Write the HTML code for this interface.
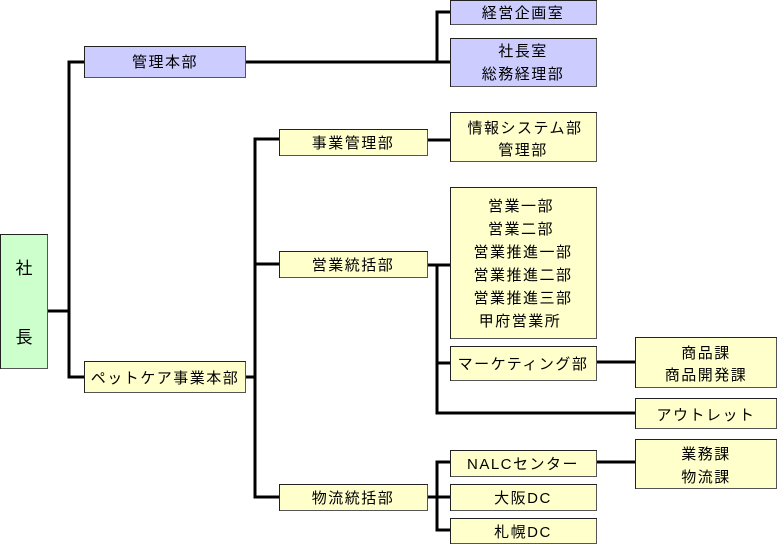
<!DOCTYPE html>
<html><head><meta charset="utf-8"><style>
html,body{margin:0;padding:0;background:#fff;}
svg{display:block;}
text{font-family:"Liberation Sans","Noto Sans CJK JP",sans-serif;font-size:15px;letter-spacing:1.5px;fill:#000;}
.big{font-size:17px;letter-spacing:0;}
</style></head><body>
<svg width="778" height="544" viewBox="0 0 778 544" xmlns="http://www.w3.org/2000/svg">
<g stroke="#000" stroke-width="3" fill="none">
<polyline points="47,311 69,311"/>
<polyline points="84,62 69,62 69,377 84,377"/>
<polyline points="245,62 437,62"/>
<polyline points="450,12 437,12 437,62 450,62"/>
<polyline points="245,377 255,377"/>
<polyline points="279,139 255,139 255,497 279,497"/>
<polyline points="255,264 279,264"/>
<polyline points="427,140 450,140"/>
<polyline points="427,265 450,265"/>
<polyline points="437,265 437,413 635,413"/>
<polyline points="437,363 450,363"/>
<polyline points="596,362 635,362"/>
<polyline points="427,497 450,497"/>
<polyline points="450,462 437,462 437,530 450,530"/>
<polyline points="596,462 635,462"/>
</g>
<g stroke="#222" stroke-width="1">
<rect x="0.5" y="234.5" width="47" height="134" fill="#ccffcc"/>
<rect x="84.5" y="46.5" width="161" height="31" fill="#ccccff"/>
<rect x="450.5" y="0.5" width="146" height="24" fill="#ccccff"/>
<rect x="450.5" y="38.5" width="146" height="48" fill="#ccccff"/>
<rect x="279.5" y="129.5" width="148" height="26" fill="#ffffcc"/>
<rect x="450.5" y="112.5" width="146" height="49" fill="#ffffcc"/>
<rect x="279.5" y="251.5" width="148" height="26" fill="#ffffcc"/>
<rect x="450.5" y="187.5" width="146" height="151" fill="#ffffcc"/>
<rect x="450.5" y="346.5" width="146" height="34" fill="#ffffcc"/>
<rect x="635.5" y="337.5" width="141" height="50" fill="#ffffcc"/>
<rect x="635.5" y="398.5" width="141" height="30" fill="#ffffcc"/>
<rect x="84.5" y="361.5" width="161" height="31" fill="#ffffcc"/>
<rect x="279.5" y="484.5" width="148" height="26" fill="#ffffcc"/>
<rect x="450.5" y="450.5" width="146" height="26" fill="#ffffcc"/>
<rect x="450.5" y="484.5" width="146" height="26" fill="#ffffcc"/>
<rect x="450.5" y="518.5" width="146" height="26" fill="#ffffcc"/>
<rect x="635.5" y="439.5" width="141" height="49" fill="#ffffcc"/>
</g>
<g stroke="#555" stroke-width="1">
<path d="M1,368.5H47.5V235 M85,77.5H245.5V47 M451,24.5H596.5V1 M451,86.5H596.5V39 M280,155.5H427.5V130 M451,161.5H596.5V113 M280,277.5H427.5V252 M451,338.5H596.5V188 M451,380.5H596.5V347 M636,387.5H776.5V338 M636,428.5H776.5V399 M85,392.5H245.5V362 M280,510.5H427.5V485 M451,476.5H596.5V451 M451,510.5H596.5V485 M451,543.5H596.5V519 M636,488.5H776.5V440" fill="none"/>
</g>
<g text-anchor="middle">
<text class="big" x="24" y="274">社</text>
<text class="big" x="24" y="343">長</text>
<text x="165" y="67">管理本部</text>
<text x="523" y="18">経営企画室</text>
<text x="523" y="56">社長室</text>
<text x="523" y="79">総務経理部</text>
<text x="353" y="148">事業管理部</text>
<text x="525" y="133">情報システム部</text>
<text x="523" y="155">管理部</text>
<text x="353" y="270">営業統括部</text>
<text x="521" y="211">営業一部</text>
<text x="521" y="234">営業二部</text>
<text x="523" y="257">営業推進一部</text>
<text x="523" y="280">営業推進二部</text>
<text x="523" y="303">営業推進三部</text>
<text x="520" y="326">甲府営業所</text>
<text x="523" y="369">マーケティング部</text>
<text x="706" y="358">商品課</text>
<text x="706" y="380">商品開発課</text>
<text x="706" y="420">アウトレット</text>
<text x="165" y="383">ペットケア事業本部</text>
<text x="353" y="503">物流統括部</text>
<text x="523" y="469">NALCセンター</text>
<text x="523" y="503">大阪DC</text>
<text x="523" y="537">札幌DC</text>
<text x="706" y="459">業務課</text>
<text x="706" y="482">物流課</text>
</g>
</svg>
</body></html>
